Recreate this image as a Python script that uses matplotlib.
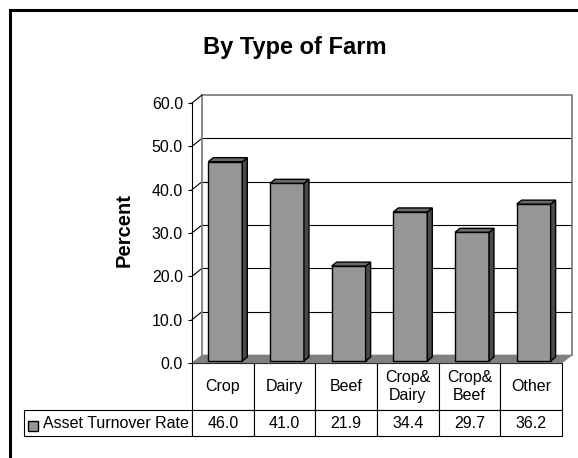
import matplotlib
matplotlib.use("Agg")
import matplotlib.pyplot as plt
from matplotlib.patches import Polygon, Rectangle

plt.rcParams['font.family'] = ['Liberation Sans', 'DejaVu Sans']

# Data
categories = ["Crop", "Dairy", "Beef", "Crop&\nDairy", "Crop&\nBeef", "Other"]
values = [46.0, 41.0, 21.9, 34.4, 29.7, 36.2]
series_name = "Asset Turnover Rate"
yticks = [0, 10, 20, 30, 40, 50, 60]

# Colours (Excel-style 3D column)
front_col = "#969696"
top_col = "#6a6a6a"
side_col = "#4a4a4a"
floor_col = "#808080"
wall_edge = "#808080"

W, H, DPI = 578, 458, 100
fig = plt.figure(figsize=(W / DPI, H / DPI), dpi=DPI)

# front plane of the plot in pixels: x 192..562, y 103..363
left, right, top, bottom = 192, 562, 103, 363
ax = fig.add_axes([left / W, 1 - bottom / H, (right - left) / W, (bottom - top) / H])
n = len(categories)
ax.set_xlim(-0.5, n - 0.5)
ax.set_ylim(0, 60)

# depth of the 3D box, converted from pixels to data units
DX = 10 / ((right - left) / n)
DY = 8 / ((bottom - top) / 60)
x0, x1 = -0.5, n - 0.5
ymax = 60

# back wall
ax.add_patch(Polygon([(x0 + DX, DY), (x0 + DX, ymax + DY), (x1 + DX, ymax + DY), (x1 + DX, DY)],
                     closed=True, facecolor="white", edgecolor="none", clip_on=False, zorder=0))
for v in yticks[1:-1]:
    # back wall gridline + side wall connector
    ax.plot([x0 + DX, x1 + DX], [v + DY, v + DY], color="black", lw=0.8, clip_on=False, zorder=1)
    ax.plot([x0, x0 + DX], [v, v + DY], color="black", lw=0.8, clip_on=False, zorder=1)
ax.plot([x0 + DX, x0 + DX, x1 + DX, x1 + DX], [DY, ymax + DY, ymax + DY, DY],
        color=wall_edge, lw=1.3, clip_on=False, zorder=1)
ax.plot([x0, x0 + DX], [ymax, ymax + DY], color="black", lw=0.8, clip_on=False, zorder=1)

# floor
ax.add_patch(Polygon([(x0, 0), (x1, 0), (x1 + DX, DY), (x0 + DX, DY)], closed=True,
                     facecolor=floor_col, edgecolor=floor_col, lw=0.5, clip_on=False, zorder=1.5))

# bars: front face through ax.bar, then side and top faces
bw = 0.55
f0, f1 = 0.25, 0.75
xs = [i + f0 * DX for i in range(n)]
bars = ax.bar(xs, values, width=bw, bottom=f0 * DY, color=front_col, edgecolor="black",
              linewidth=1.0, zorder=3)
ddx, ddy = (f1 - f0) * DX, (f1 - f0) * DY
for b in bars:
    bx, by, bwid, bh = b.get_x(), b.get_y(), b.get_width(), b.get_height()
    xr, yt = bx + bwid, by + bh
    ax.add_patch(Polygon([(xr, by), (xr + ddx, by + ddy), (xr + ddx, yt + ddy), (xr, yt)], closed=True,
                         facecolor=side_col, edgecolor="black", lw=1.0, zorder=3))
    ax.add_patch(Polygon([(bx, yt), (bx + ddx, yt + ddy), (xr + ddx, yt + ddy), (xr, yt)], closed=True,
                         facecolor=top_col, edgecolor="black", lw=1.0, zorder=3))

# axes styling
for s in ["top", "right", "bottom"]:
    ax.spines[s].set_visible(False)
ax.spines["left"].set_color("black")
ax.spines["left"].set_linewidth(0.8)
ax.spines["left"].set_zorder(4)
ax.set_facecolor("none")
ax.set_xticks([])
ax.set_yticks(yticks)
ax.set_yticklabels([f"{v:.1f}" for v in yticks])
ax.tick_params(axis="y", direction="out", length=3, width=0.8, pad=3.5, labelsize=11.5)

# data table under the plot (first column holds the series label)
rlw = (left - 24) / (right - left)
th = (436 - bottom) / (bottom - top)
tbl = ax.table(cellText=[[series_name] + [f"{v:.1f}" for v in values]], colLabels=[""] + categories,
               cellLoc="center", colLoc="center", colWidths=[rlw] + [1 / n] * n,
               bbox=[-rlw, -th, 1 + rlw, th])
tbl.auto_set_font_size(False)
tbl.set_fontsize(11.5)
for (r, c), cell in tbl.get_celld().items():
    cell.set_linewidth(0.8)
    cell.set_height((47 if r == 0 else 26) / (bottom - top))
    if r == 0 and c == 0:
        cell.visible_edges = ""
        cell.set_facecolor("none")
    if r == 1 and c == 0:
        cell.get_text().set_horizontalalignment("left")
        cell.PAD = 19 / (left - 24)

# legend key inside the table
ax.add_patch(Rectangle(((28 - left) / (right - left), (bottom - 431) / (bottom - top)),
                       10 / (right - left), 10 / (bottom - top), transform=ax.transAxes,
                       facecolor=front_col, edgecolor="black", lw=1.0, clip_on=False, zorder=6))

# title and axis label
fig.text(295 / W, 1 - 54 / H, "By Type of Farm", ha="center", va="baseline",
         fontsize=17, fontweight="bold")
fig.text(124 / W, 1 - 230 / H, "Percent", ha="center", va="center", rotation=90,
         fontsize=14.5, fontweight="bold")

# chart area border (extends off the canvas on right and bottom)
fig.add_artist(Rectangle((9.5 / W, -0.5), 2.0, 1.5 - 9.5 / H, transform=fig.transFigure,
                         fill=False, edgecolor="black", lw=2.2))

fig.savefig("out.png", dpi=DPI)
